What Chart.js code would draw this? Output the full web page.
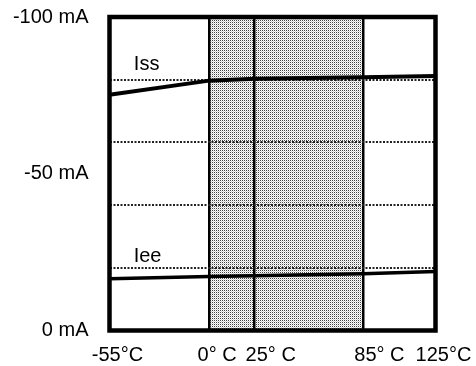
<!DOCTYPE html>
<html>
<head>
<meta charset="utf-8">
<script src="https://cdn.jsdelivr.net/npm/chart.js@4/dist/chart.umd.min.js"></script>
<style>
  body { margin: 0; background: #fff; }
  #wrap { width: 476px; height: 366px; }
</style>
</head>
<body>
<div id="wrap"><canvas id="chart" width="476" height="366"></canvas></div>
<script>
// temperatures (deg C) and their axis labels
const temps = [-55, 0, 25, 85, 125];
const tempLabels = ['-55°C', '0° C', '25° C', '85° C', '125°C'];
// supply currents, magnitude in mA (axis shows them as negative)
const issValues = [75.2, 79.7, 80.3, 80.8, 81.2];
const ieeValues = [16.5, 17.2, 17.5, 18.1, 18.8];
// y ticks: labelled ones and dotted grid ones
const currentTicks = [0, 20, 40, 50, 60, 80, 100];
const labelledCurrents = [0, 50, 100];
// shaded temperature band
const shadedBand = [0, 85];
// series names written inside the plot
const seriesNames = ['Iss', 'Iee'];

const FONT = "'Liberation Sans', Arial, sans-serif";

// halftone-ish dot pattern for the shaded band
function makePattern(ctx) {
  const c = document.createElement('canvas');
  c.width = 2; c.height = 2;
  const p = c.getContext('2d');
  p.fillStyle = '#fff';
  p.fillRect(0, 0, 2, 2);
  p.fillStyle = '#444';
  p.fillRect(0, 0, 1, 1);
  p.fillStyle = '#d0d0d0';
  p.fillRect(1, 1, 1, 1);
  return ctx.createPattern(c, 'repeat');
}

const framePlugin = {
  id: 'frame',
  beforeDraw(chart) {
    const { ctx, chartArea: a, scales } = chart;
    ctx.save();
    ctx.fillStyle = '#fff';
    ctx.fillRect(0, 0, chart.width, chart.height);
    const x0 = scales.x.getPixelForValue(shadedBand[0]);
    const x1 = scales.x.getPixelForValue(shadedBand[1]);
    ctx.fillStyle = makePattern(ctx);
    ctx.fillRect(x0, a.top, x1 - x0, a.bottom - a.top);
    ctx.restore();
  },
  afterDatasetsDraw(chart) {
    const { ctx, chartArea: a, scales } = chart;
    ctx.save();
    ctx.strokeStyle = '#000';
    ctx.lineWidth = 4.5;
    ctx.strokeRect(a.left, a.top, a.right - a.left, a.bottom - a.top);

    // series names
    ctx.fillStyle = '#000';
    ctx.font = '20px ' + FONT;
    ctx.textAlign = 'center';
    ctx.textBaseline = 'middle';
    ctx.fillText(seriesNames[0], scales.x.getPixelForValue(-34.5), scales.y.getPixelForValue(84.7));
    ctx.fillText(seriesNames[1], scales.x.getPixelForValue(-34), scales.y.getPixelForValue(23.6));
    ctx.restore();
  }
};

new Chart(document.getElementById('chart'), {
  type: 'line',
  data: {
    datasets: [
      {
        label: seriesNames[0],
        data: temps.map((t, i) => ({ x: t, y: issValues[i] })),
        borderColor: '#000',
        borderWidth: 4,
        pointRadius: 0,
        tension: 0
      },
      {
        label: seriesNames[1],
        data: temps.map((t, i) => ({ x: t, y: ieeValues[i] })),
        borderColor: '#000',
        borderWidth: 3.5,
        pointRadius: 0,
        tension: 0
      }
    ]
  },
  options: {
    responsive: false,
    animation: false,
    layout: { padding: { left: 10, right: 40.5, top: 17, bottom: 0 } },
    plugins: {
      legend: { display: false },
      tooltip: { enabled: false },
      title: { display: false }
    },
    scales: {
      x: {
        type: 'linear',
        min: -55,
        max: 125,
        afterBuildTicks: (s) => { s.ticks = temps.map(v => ({ value: v })); },
        afterFit: (s) => {
          s.height = 35.5;
          s.paddingLeft = 0;
          s.paddingRight = 0;
        },
        grid: {
          drawTicks: false,
          color: (c) => (c.tick && (c.tick.value === -55 || c.tick.value === 125)) ? 'rgba(0,0,0,0)' : '#000',
          lineWidth: 2.5
        },
        border: { display: false },
        ticks: {
          padding: 13,
          labelOffset: 8,
          maxRotation: 0,
          autoSkip: false,
          color: '#000',
          font: { family: FONT, size: 20 },
          // leading spaces nudge the 25 and 85 labels apart like the original
          callback: (v) => {
            const lbl = tempLabels[temps.indexOf(v)];
            return (v === 25 || v === 85) ? '   ' + lbl : lbl;
          }
        }
      },
      y: {
        min: 0,
        max: 100,
        afterBuildTicks: (s) => { s.ticks = currentTicks.map(v => ({ value: v })); },
        afterFit: (s) => {
          s.width = 99.5;
          s.paddingTop = 0;
          s.paddingBottom = 0;
        },
        grid: {
          drawTicks: false,
          color: (c) => (c.tick && labelledCurrents.includes(c.tick.value)) ? 'rgba(0,0,0,0)' : '#222',
          lineWidth: 2
        },
        border: { display: false, dash: [2, 1.5] },
        ticks: {
          padding: 21,
          autoSkip: false,
          color: '#000',
          font: { family: FONT, size: 20 },
          callback: (v) => labelledCurrents.includes(v) ? (v === 0 ? '0 mA' : '-' + v + ' mA') : ''
        }
      }
    }
  },
  plugins: [framePlugin]
});
</script>
</body>
</html>
